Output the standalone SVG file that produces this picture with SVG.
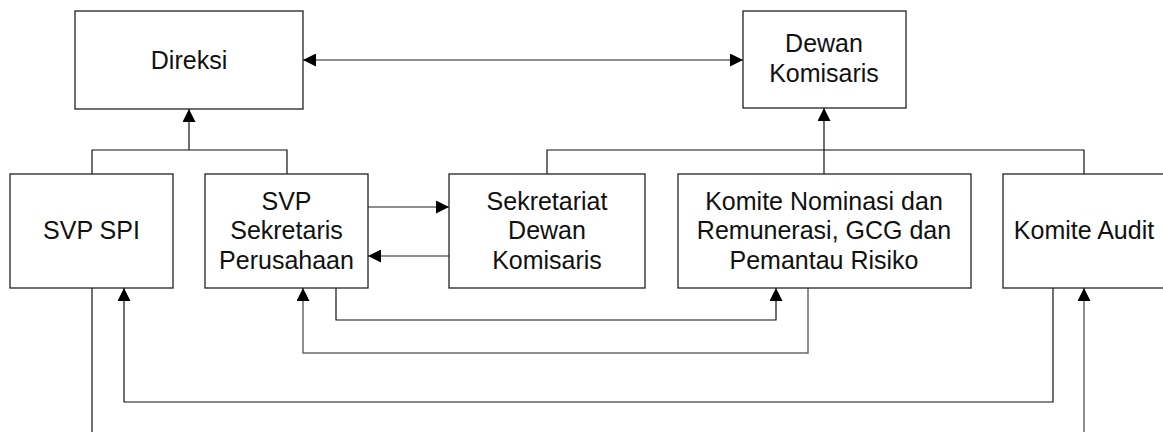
<svg xmlns="http://www.w3.org/2000/svg" width="1163" height="432" viewBox="0 0 1163 432">
<style>
.box{fill:#fff;stroke:#222;stroke-width:1.3}
.t{font-family:"Liberation Sans",Arial,sans-serif;font-size:25px;fill:#111;text-anchor:middle}
.k{fill:none;stroke:#111;stroke-width:1.2}
.g{fill:none;stroke:#6a6a6a;stroke-width:1.5}
</style>
<defs>
<marker id="ah" markerUnits="userSpaceOnUse" markerWidth="14" markerHeight="13" viewBox="0 0 14 13" refX="13" refY="6.5" orient="auto">
<path d="M0,0 L13,6.5 L0,13 Z" fill="#000"/>
</marker>
<marker id="as" markerUnits="userSpaceOnUse" markerWidth="14" markerHeight="13" viewBox="0 0 14 13" refX="0" refY="6.5" orient="auto">
<path d="M13,0 L0,6.5 L13,13 Z" fill="#000"/>
</marker>
</defs>
<g id="connectors">
<path class="g" d="M303,60 H743" marker-start="url(#as)" marker-end="url(#ah)"/>
<path class="k" d="M92,174 V150 H287 V174"/>
<path class="k" d="M189,150 V109" marker-end="url(#ah)"/>
<path class="k" d="M547,174 V150 H1084 V174"/>
<path class="k" d="M824,174 V108" marker-end="url(#ah)"/>
<path class="g" d="M368,207 H449" marker-end="url(#ah)"/>
<path class="g" d="M449,256 H368" marker-end="url(#ah)"/>
<path class="k" d="M336,288 V320 H776 V288" marker-end="url(#ah)"/>
<path class="g" d="M808,288 V353 H303 V288" marker-end="url(#ah)"/>
<path class="k" d="M1053,288 V402 H124 V288" marker-end="url(#ah)"/>
<path class="k" d="M92,288 V432"/>
<path class="g" d="M1084,432 V288" marker-end="url(#ah)"/>
</g>
<g id="direksi">
<rect class="box" x="75" y="11" width="228" height="98"/>
<text class="t" x="189" y="69">Direksi</text>
</g>
<g id="dewan-komisaris">
<rect class="box" x="743" y="11" width="163" height="97"/>
<text class="t" x="824" y="52">Dewan</text>
<text class="t" x="824" y="82">Komisaris</text>
</g>
<g id="svp-spi">
<rect class="box" x="10" y="174" width="163" height="114"/>
<text class="t" x="91.5" y="239">SVP SPI</text>
</g>
<g id="svp-sekretaris">
<rect class="box" x="205" y="174" width="163" height="114"/>
<text class="t" x="286.5" y="209.5">SVP</text>
<text class="t" x="286.5" y="239">Sekretaris</text>
<text class="t" x="286.5" y="268.5">Perusahaan</text>
</g>
<g id="sekretariat">
<rect class="box" x="449" y="174" width="196" height="114"/>
<text class="t" x="547" y="209.5">Sekretariat</text>
<text class="t" x="547" y="239">Dewan</text>
<text class="t" x="547" y="268.5">Komisaris</text>
</g>
<g id="komite-nominasi">
<rect class="box" x="678" y="174" width="293" height="114"/>
<text class="t" x="824" y="209.5">Komite Nominasi dan</text>
<text class="t" x="824" y="239">Remunerasi, GCG dan</text>
<text class="t" x="824" y="268.5">Pemantau Risiko</text>
</g>
<g id="komite-audit">
<rect class="box" x="1003" y="174" width="163" height="114"/>
<text class="t" x="1084" y="239">Komite Audit</text>
</g>
</svg>
